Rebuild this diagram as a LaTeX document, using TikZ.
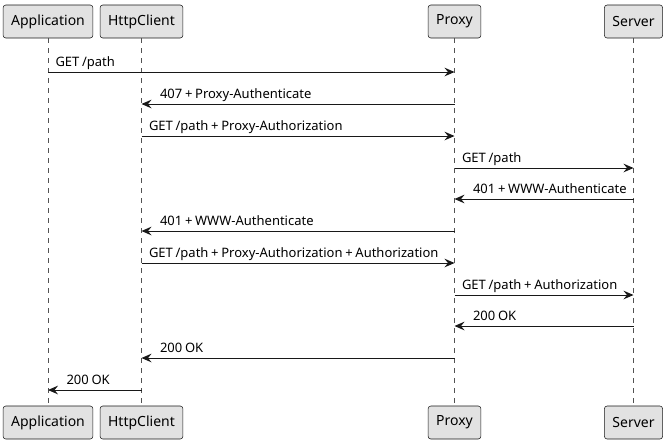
\documentclass[tikz,border=0pt]{standalone}
\usepackage{fontspec}
\setmainfont{Noto Sans}
\newfontfamily\msgfont[WordSpace=0.8]{Noto Sans}
\usetikzlibrary{arrows.meta}
\definecolor{partfill}{HTML}{E2E2E2}
\definecolor{partline}{HTML}{181818}
\tikzset{
  part/.style={draw=partline, fill=partfill, line width=0.4pt, rounded corners=2pt,
    minimum height=24.75pt, inner xsep=6pt, font=\fontsize{10.5}{12}\selectfont},
  life/.style={draw=partline!75, line width=0.4pt, dash pattern=on 3.75pt off 3.75pt},
  msg/.style={draw=partline, line width=0.75pt, -{Stealth[length=7.5pt, width=6.5pt, inset=2.6pt]}},
  lbl/.style={anchor=base west, inner sep=0pt, yshift=4pt, font=\msgfont\fontsize{9.75}{11}\selectfont}
}
\newcommand{\msgR}[4]{\draw[msg] (#1 |- 0,#3) node[lbl, xshift=5.25pt] {#4} -- (#2 |- 0,#3);}
\newcommand{\msgL}[4]{\draw[msg] (#1 |- 0,#3) -- (#2 |- 0,#3) node[lbl, xshift=13.5pt] {#4};}

\begin{document}
\begin{tikzpicture}[x=0.75pt, y=-0.75pt]
        \useasboundingbox (0,0) rectangle (666,444);
        % participants
        \node[part] (appT) at (48,21.5) {Application};
        \node[part] (httpT) at (141.5,21.5) {HttpClient};
        \node[part] (proxyT) at (454.5,21.5) {Proxy};
        \node[part] (serverT) at (633.5,21.5) {Server};
        \node[part] (appB) at (48,422.5) {Application};
        \node[part] (httpB) at (141.5,422.5) {HttpClient};
        \node[part] (proxyB) at (454.5,422.5) {Proxy};
        \node[part] (serverB) at (633.5,422.5) {Server};
        % lifelines
        \draw[life] (appT) -- (appB);
        \draw[life] (httpT) -- (httpB);
        \draw[life] (proxyT) -- (proxyB);
        \draw[life] (serverT) -- (serverB);
        % messages
        \msgR{appT}{proxyT}{72}{GET /path}
        \msgL{proxyT}{httpT}{104}{407 + Proxy-Authenticate}
        \msgR{httpT}{proxyT}{136}{GET /path + Proxy-Authorization}
        \msgR{proxyT}{serverT}{168}{GET /path}
        \msgL{serverT}{proxyT}{199}{401 + WWW-Authenticate}
        \msgL{proxyT}{httpT}{231}{401 + WWW-Authenticate}
        \msgR{httpT}{proxyT}{263}{GET /path + Proxy-Authorization + Authorization}
        \msgR{proxyT}{serverT}{295}{GET /path + Authorization}
        \msgL{serverT}{proxyT}{326}{200 OK}
        \msgL{proxyT}{httpT}{358}{200 OK}
        \msgL{httpT}{appT}{390}{200 OK}
    \end{tikzpicture}
\end{document}
